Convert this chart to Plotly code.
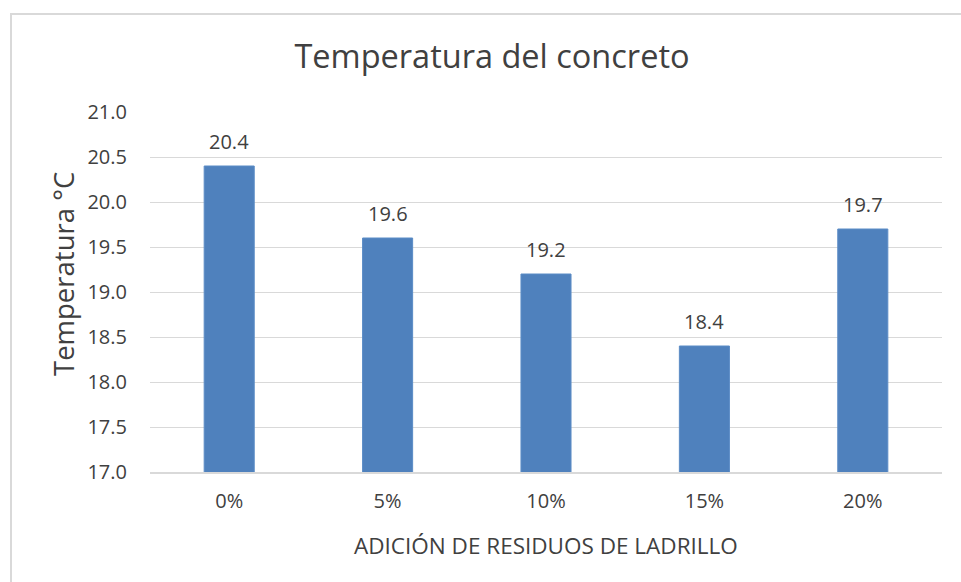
import plotly.graph_objects as go

# Concrete temperature by brick-waste addition
categorias = ["0%", "5%", "10%", "15%", "20%"]
temperaturas = [20.4, 19.6, 19.2, 18.4, 19.7]
y_ticks = [17.0, 17.5, 18.0, 18.5, 19.0, 19.5, 20.0, 20.5, 21.0]

FONT = "Open Sans, Liberation Sans, sans-serif"
TXT = "#404040"
GRID = "#d9d9d9"

fig = go.Figure()
fig.add_trace(go.Bar(
    x=categorias,
    y=temperaturas,
    marker=dict(color="#4f81bd", line=dict(color="#5b8cc6", width=1)),
    width=0.316,
    hoverinfo="x+y",
))

# value labels above each bar
for c, v in zip(categorias, temperaturas):
    fig.add_annotation(x=c, y=v, text=f"{v:.1f}", showarrow=False,
                       yshift=25, font=dict(family=FONT, size=20, color=TXT))

W, H = 961, 582
L, R, T, B = 150, 19, 112, 110
pw, ph = W - L - R, H - T - B

def px_x(px):
    return (px - L) / pw

def px_y(py):
    return (H - B - py) / ph

# axis titles
fig.add_annotation(xref="paper", yref="paper", x=px_x(63), y=px_y(274),
                   text="Temperatura °C", textangle=-90, showarrow=False,
                   xanchor="center", yanchor="middle",
                   font=dict(family=FONT, size=27.5, color=TXT))
fig.add_annotation(xref="paper", yref="paper", x=px_x(546), y=px_y(545),
                   text="ADICIÓN DE RESIDUOS DE LADRILLO", showarrow=False,
                   xanchor="center", yanchor="middle",
                   font=dict(family=FONT, size=22.5, color=TXT))

# outer chart frame
fig.add_shape(type="rect", xref="paper", yref="paper",
              x0=px_x(11), x1=px_x(975), y0=px_y(14), y1=px_y(600),
              line=dict(color="#d9d9d9", width=2), fillcolor="rgba(0,0,0,0)")

fig.update_layout(
    width=W, height=H,
    margin=dict(l=L, r=R, t=T, b=B, pad=0),
    paper_bgcolor="white", plot_bgcolor="white",
    showlegend=False,
    title=dict(text="Temperatura del concreto", x=px_x(492), xref="paper",
               xanchor="center", y=1 - 57 / H, yanchor="middle",
               font=dict(family=FONT, size=32.5, color=TXT)),
    font=dict(family=FONT, color=TXT),
    xaxis=dict(
        type="category", showgrid=False, ticks="",
        showline=True, linecolor=GRID, linewidth=1.5,
        tickfont=dict(family=FONT, size=20, color=TXT),
        ticklabelstandoff=10,
        fixedrange=True,
    ),
    yaxis=dict(
        range=[17.0, 21.0], tickvals=y_ticks,
        ticktext=[f"{t:.1f}" for t in y_ticks],
        showgrid=True, gridcolor=GRID, gridwidth=1.2,
        zeroline=False, showline=False, ticks="",
        tickfont=dict(family=FONT, size=20, color=TXT),
        ticklabelstandoff=22,
        fixedrange=True,
    ),
    bargap=0.684,
)

fig.write_html("out.html")
